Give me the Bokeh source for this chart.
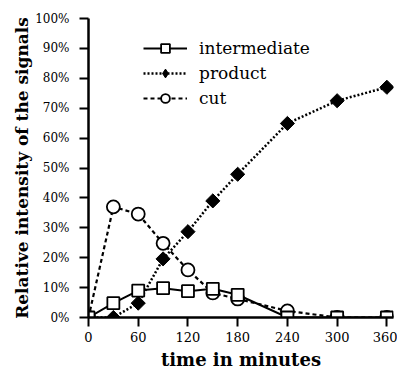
import math
from bokeh.plotting import figure
from bokeh.models import Range1d, FixedTicker, PrintfTickFormatter, Legend, LegendItem
from bokeh.embed import file_html
from bokeh.resources import INLINE

time_min = [0, 30, 60, 90, 120, 150, 180, 240, 300, 360]
intermediate = [0, 4.8, 9.0, 9.8, 8.8, 9.6, 7.6, 0, 0, 0]
product = [0, 0, 4.8, 19.6, 28.7, 39.0, 47.9, 64.9, 72.5, 77.0]
cut = [0, 37.0, 34.6, 24.8, 15.9, 8.2, 6.2, 2.2, 0, 0]

x_ticks = [0, 60, 120, 180, 240, 300, 360]
y_ticks = [0, 10, 20, 30, 40, 50, 60, 70, 80, 90, 100]

FONT = "DejaVu Serif"

p = figure(width=397, height=373, output_backend="svg", toolbar_location=None,
           x_range=Range1d(0, 368), y_range=Range1d(0, 100),
           min_border_left=88, min_border_right=4, min_border_top=18, min_border_bottom=56)
p.outline_line_color = None
p.xgrid.grid_line_color = None
p.ygrid.grid_line_color = None
p.background_fill_color = "white"

# cut
r_cut_l = p.line(time_min, cut, line_color="black", line_width=2.2, line_dash="4 3")
r_cut_s = p.scatter(time_min, cut, marker="circle", size=13, fill_color="white",
                    line_color="black", line_width=1.8)
# product
r_prod_l = p.line(time_min, product, line_color="black", line_width=2.5, line_dash="2 2")
r_prod_s = p.scatter(time_min, product, marker="square", size=10, angle=math.pi / 4,
                     fill_color="black", line_color="black", line_width=1)
# legend-only diamond for product, placed outside the visible range
r_prod_leg = p.scatter(x=[-1000], y=[-1000], marker="diamond", size=13,
                       fill_color="black", line_color="black", line_width=1)
# intermediate
r_int_l = p.line(time_min, intermediate, line_color="black", line_width=2)
r_int_s = p.scatter(time_min, intermediate, marker="square", size=12, fill_color="white",
                    line_color="black", line_width=1.8)

legend = Legend(items=[
    LegendItem(label="intermediate", renderers=[r_int_l, r_int_s]),
    LegendItem(label="product", renderers=[r_prod_l, r_prod_leg]),
    LegendItem(label="cut", renderers=[r_cut_l, r_cut_s]),
], location=(55, 208), border_line_color=None, background_fill_alpha=0,
    glyph_width=44, glyph_height=22, label_height=20, spacing=3, padding=0, margin=0,
    label_standoff=12, label_text_font=FONT, label_text_font_size="17px",
    label_text_color="black")
p.add_layout(legend, "center")

for ax in (p.xaxis[0], p.yaxis[0]):
    ax.axis_line_width = 2.5
    ax.axis_line_color = "black"
    ax.major_tick_line_width = 2
    ax.major_tick_line_color = "black"
    ax.major_tick_in = 0
    ax.major_tick_out = 9
    ax.minor_tick_line_color = None
    ax.major_label_text_font = FONT
    ax.major_label_text_font_size = "12px"
    ax.major_label_text_color = "black"
    ax.axis_label_text_font = FONT
    ax.axis_label_text_font_style = "bold"
    ax.axis_label_text_color = "black"

p.xaxis[0].axis_label_text_font_size = "18px"
p.yaxis[0].axis_label_text_font_size = "17px"
p.xaxis[0].major_label_text_font_size = "13px"
p.xaxis[0].ticker = FixedTicker(ticks=x_ticks)
p.yaxis[0].ticker = FixedTicker(ticks=y_ticks)
p.yaxis[0].formatter = PrintfTickFormatter(format="%d%%")
p.xaxis[0].axis_label = "time in minutes"
p.yaxis[0].axis_label = "Relative intensity of the signals"
p.xaxis[0].major_label_standoff = 5
p.yaxis[0].major_label_standoff = 10
p.xaxis[0].axis_label_standoff = 4
p.yaxis[0].axis_label_standoff = 0

open("out.html", "w").write(file_html(p, INLINE))
